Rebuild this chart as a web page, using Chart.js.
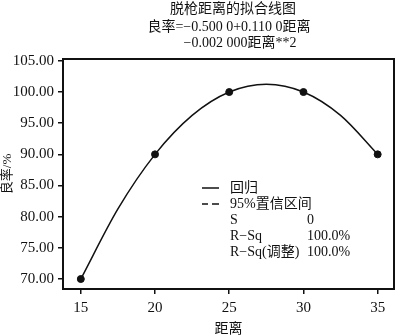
<!DOCTYPE html>
<html>
<head>
<meta charset="utf-8">
<script src="https://cdn.jsdelivr.net/npm/chart.js@4"></script>
<style>
  html, body { margin: 0; padding: 0; background: #fff; }
  #chart { display: block; }
</style>
</head>
<body>
<canvas id="chart" width="400" height="336"></canvas>
<script>
// observed points
const distance = [15, 20, 25, 30, 35];
const yieldRate = [70, 90, 100, 100, 90];
// fitted curve
const fitX = [15, 17.5, 20, 22.5, 25, 27.5, 30, 32.5, 35];
const fitY = [70, 81.25, 90, 96.25, 100, 101.25, 100, 96.25, 90];
// tick labels
const xTicks = [15, 20, 25, 30, 35];
const yTicks = [70, 75, 80, 85, 90, 95, 100, 105];

const titleLines = ["脱枪距离的拟合线图", "良率=−0.500 0+0.110 0距离", "−0.002 000距离**2"];
const legendRows = [["回归", ""], ["95%置信区间", ""], ["S", "0"], ["R−Sq", "100.0%"], ["R−Sq(调整)", "100.0%"]];

const FONT = "'Liberation Serif', 'Noto Sans CJK SC', serif";

const decorations = {
  id: "decorations",
  afterDraw(chart) {
    const ctx = chart.ctx;
    const a = chart.chartArea;
    ctx.save();
    // frame
    ctx.strokeStyle = "#111";
    ctx.lineWidth = 2;
    ctx.strokeRect(a.left, a.top, a.right - a.left, a.bottom - a.top);

    // title lines
    ctx.fillStyle = "#111";
    ctx.textAlign = "center";
    ctx.textBaseline = "middle";
    ctx.font = "14px " + FONT;
    ctx.fillText(titleLines[0], 233, 9);
    ctx.fillText(titleLines[1], 229, 27);
    ctx.fillText(titleLines[2], 240, 43);

    // legend block
    ctx.textAlign = "left";
    ctx.lineWidth = 1.5;
    ctx.beginPath();
    ctx.moveTo(202, 188); ctx.lineTo(219, 188);
    ctx.stroke();
    ctx.beginPath();
    ctx.moveTo(202, 204); ctx.lineTo(208, 204);
    ctx.moveTo(212, 204); ctx.lineTo(219, 204);
    ctx.stroke();
    legendRows.forEach((row, i) => {
      const y = 188 + i * 16.2;
      ctx.fillText(row[0], 230, y);
      if (row[1]) ctx.fillText(row[1], 307, y);
    });
    ctx.restore();
  }
};

const ctx = document.getElementById("chart").getContext("2d");
const myChart = new Chart(ctx, {
  type: "scatter",
  data: {
    datasets: [
      {
        label: "回归",
        data: fitX.map((x, i) => ({ x: x, y: fitY[i] })),
        showLine: true,
        borderColor: "#111",
        borderWidth: 1.5,
        pointRadius: 0,
        cubicInterpolationMode: "monotone",
      },
      {
        label: "data",
        data: distance.map((x, i) => ({ x: x, y: yieldRate[i] })),
        backgroundColor: "#111",
        borderColor: "#111",
        pointRadius: 3.5,
      },
    ],
  },
  options: {
    responsive: false,
    animation: false,
    layout: { padding: { top: 59, right: 6, left: 0, bottom: 0 } },
    plugins: {
      legend: { display: false },
      tooltip: { enabled: false },
    },
    scales: {
      x: {
        type: "linear",
        min: 13.8,
        max: 36.1,
        afterFit(scale) { scale.height = 47; },
        afterBuildTicks(scale) { scale.ticks = xTicks.map((v) => ({ value: v })); },
        grid: { drawOnChartArea: false, tickLength: 5, color: "#111", lineWidth: 1.5 },
        border: { color: "#111", width: 2 },
        ticks: { color: "#111", padding: 5, font: { family: FONT, size: 15 } },
        title: {
          display: true,
          text: "距离",
          color: "#111",
          padding: 0,
          font: { family: FONT, size: 14, lineHeight: 1 },
        },
      },
      y: {
        min: 68.4,
        max: 105.3,
        afterFit(scale) { scale.width = 63; },
        afterBuildTicks(scale) { scale.ticks = yTicks.map((v) => ({ value: v })); },
        grid: { drawOnChartArea: false, tickLength: 5, color: "#111", lineWidth: 1.5 },
        border: { color: "#111", width: 2 },
        ticks: {
          color: "#111",
          padding: 4,
          font: { family: FONT, size: 15 },
          callback: (v) => v.toFixed(2),
        },
        title: {
          display: true,
          text: "良率/%",
          color: "#111",
          padding: 0,
          font: { family: FONT, size: 13, lineHeight: 1.2 },
        },
      },
    },
  },
  plugins: [decorations],
});
</script>
</body>
</html>
